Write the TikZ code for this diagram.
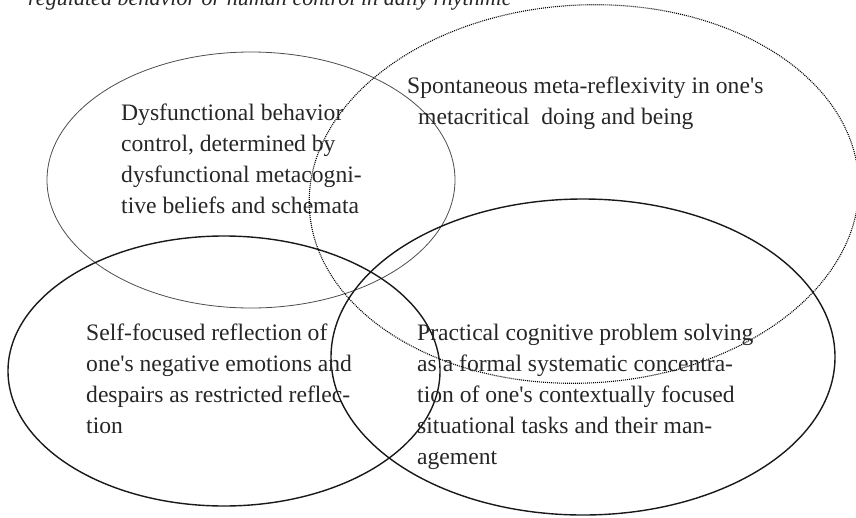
\documentclass[tikz,border=0pt]{standalone}
\usepackage{fontspec}
\setmainfont{Liberation Serif}
\newcommand{\apos}{\textquotesingle}
\begin{document}
\begin{tikzpicture}[x=1pt,y=-1pt,
  thinring/.style={draw=black!70,line width=0.8pt},
  boldring/.style={draw=black!90,line width=1.4pt},
  dotring/.style={draw=black,line width=1.1pt,dash pattern=on 1pt off 1pt},
  label/.style={inner sep=0pt,anchor=north west,align=left,text=black!85,
    font=\fontsize{23.6}{31}\selectfont},
  caption/.style={inner sep=0pt,anchor=base west,text=black!85,
    font=\fontsize{22.1}{31}\selectfont\itshape}]
\useasboundingbox (0,0) rectangle (856,517);
\clip (0,0) rectangle (856,517);

% the four overlapping fields
\coordinate (cDys) at (251,180);
\coordinate (cMeta) at (584,194);
\coordinate (cSelf) at (224,371);
\coordinate (cPrac) at (583,357);
\draw[thinring] (cDys) ellipse [x radius=204pt, y radius=128pt];
\draw[dotring, rotate around={3:(cMeta)}] (cMeta) ellipse [x radius=275pt, y radius=189pt];
\draw[boldring] (cSelf) ellipse [x radius=216pt, y radius=135pt];
\draw[boldring] (cPrac) ellipse [x radius=252pt, y radius=158pt];

% caption line running off the top
\node[caption] (cap) at (28,5) {regulated behavior or human control in daily rhythmic};

% field texts
\node[label] (tDys) at (121,98.3) {\strut Dysfunctional behavior\\control, determined by\\dysfunctional metacogni-\\tive beliefs and schemata};
\node[label] (tMeta) at (407,71.3) {\strut Spontaneous meta-reflexivity in one\apos s\\\hspace*{11pt}metacritical\ \ doing and being};
\node[label] (tSelf) at (86,318.3) {\strut Self-focused reflection of\\one\apos s negative emotions and\\despairs as restricted reflec-\\tion};
\node[label] (tPrac) at (417,318.3) {\strut Practical cognitive problem solving\\as a formal systematic concentra-\\tion of one\apos s contextually focused\\situational tasks and their man-\\agement};
\end{tikzpicture}
\end{document}
